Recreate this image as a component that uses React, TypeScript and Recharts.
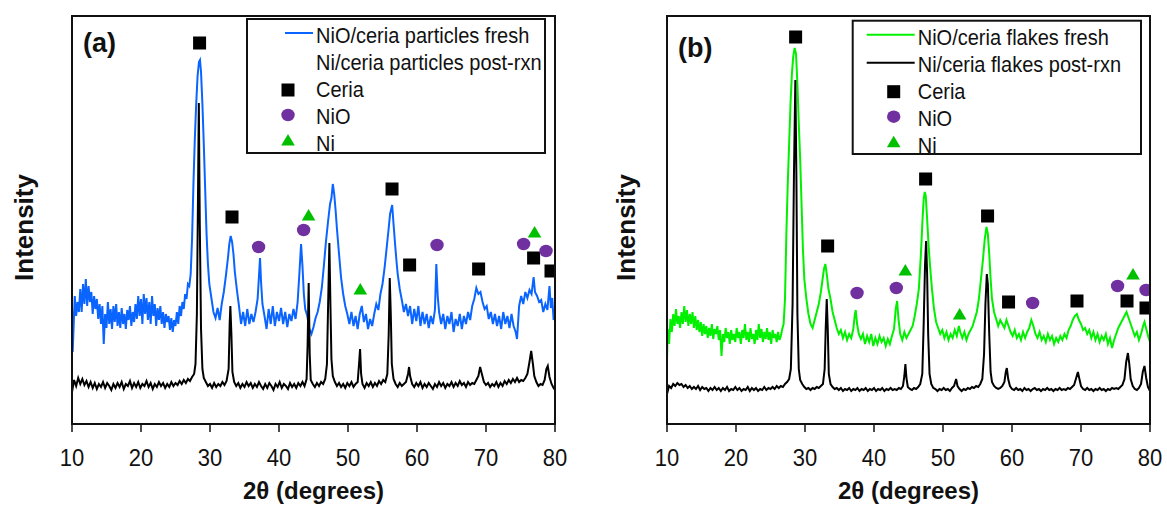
import React from "react";
import { ComposedChart, Line, Scatter, XAxis, YAxis } from "recharts";

type Pt = [number, number];

// 2θ axis ticks (degrees)
const xTicks = [10, 20, 30, 40, 50, 60, 70, 80];

// (a) NiO/ceria particles fresh — intensity, arbitrary units
const particlesFresh: Pt[] = [
  [10.0, 118], [10.1, 72], [10.25, 100], [10.4, 128], [10.6, 108], [10.8, 122], [11.0, 112], [11.2, 135], [11.4, 112], [11.6, 140],
  [11.8, 120], [12.0, 145], [12.2, 118], [12.4, 138], [12.6, 122], [12.8, 132], [13.0, 110], [13.2, 128], [13.4, 115], [13.6, 125],
  [13.8, 105], [14.0, 120], [14.2, 100], [14.4, 118], [14.6, 80], [14.8, 110], [15.0, 96], [15.2, 122], [15.4, 100], [15.6, 115],
  [15.8, 95], [16.0, 118], [16.2, 102], [16.4, 120], [16.6, 98], [16.8, 112], [17.0, 96], [17.2, 116], [17.4, 100], [17.6, 110],
  [17.8, 95], [18.0, 114], [18.2, 104], [18.4, 118], [18.6, 98], [18.8, 112], [19.0, 102], [19.2, 120], [19.4, 105], [19.6, 128],
  [19.8, 108], [20.0, 125], [20.2, 100], [20.4, 130], [20.6, 110], [20.8, 126], [21.0, 104], [21.2, 122], [21.4, 100], [21.6, 128],
  [21.8, 108], [22.0, 120], [22.2, 98], [22.4, 116], [22.6, 104], [22.8, 118], [23.0, 100], [23.2, 112], [23.4, 96], [23.6, 110],
  [23.8, 102], [24.0, 108], [24.2, 94], [24.4, 106], [24.6, 92], [24.8, 104], [25.0, 98], [25.2, 112], [25.4, 100], [25.6, 118],
  [25.8, 108], [26.0, 122], [26.2, 115], [26.4, 130], [26.6, 125], [26.8, 140], [27.0, 138], [27.2, 150], [27.4, 185], [27.6, 240],
  [27.8, 285], [28.0, 320], [28.2, 348], [28.4, 362], [28.55, 364], [28.7, 352], [28.9, 320], [29.1, 280], [29.3, 235], [29.5, 190],
  [29.7, 160], [29.9, 140], [30.2, 126], [30.5, 112], [30.8, 106], [31.1, 116], [31.4, 104], [31.7, 120], [32.0, 132], [32.3, 148],
  [32.6, 166], [32.8, 180], [33.0, 188], [33.2, 182], [33.4, 170], [33.6, 152], [33.9, 134], [34.2, 118], [34.5, 100], [34.8, 112],
  [35.1, 98], [35.4, 115], [35.7, 100], [36.0, 110], [36.3, 102], [36.6, 112], [36.9, 125], [37.1, 148], [37.25, 166], [37.4, 142],
  [37.6, 120], [37.9, 108], [38.2, 95], [38.5, 115], [38.8, 100], [39.1, 118], [39.4, 98], [39.7, 112], [40.0, 103], [40.3, 116],
  [40.6, 100], [40.9, 112], [41.2, 97], [41.5, 110], [41.8, 103], [42.1, 115], [42.4, 105], [42.7, 122], [42.95, 150], [43.2, 180],
  [43.4, 158], [43.6, 130], [43.8, 115], [44.1, 108], [44.4, 95], [44.7, 90], [45.0, 97], [45.3, 106], [45.6, 112], [45.9, 122],
  [46.2, 136], [46.5, 158], [46.8, 182], [47.1, 202], [47.4, 220], [47.6, 226], [47.8, 240], [48.0, 230], [48.2, 214], [48.4, 195],
  [48.7, 170], [49.0, 146], [49.3, 130], [49.6, 118], [49.9, 110], [50.2, 100], [50.5, 112], [50.8, 98], [51.1, 108], [51.4, 95],
  [51.7, 110], [52.0, 118], [52.3, 102], [52.6, 110], [52.9, 95], [53.2, 105], [53.5, 98], [53.8, 110], [54.1, 120], [54.4, 114],
  [54.7, 130], [55.0, 140], [55.3, 156], [55.6, 176], [55.9, 196], [56.1, 210], [56.4, 219], [56.6, 200], [56.8, 182], [57.0, 165],
  [57.2, 150], [57.5, 135], [57.8, 124], [58.1, 112], [58.4, 120], [58.7, 108], [59.0, 118], [59.3, 100], [59.6, 115], [59.9, 103],
  [60.2, 118], [60.5, 98], [60.8, 112], [61.1, 100], [61.4, 110], [61.7, 96], [62.0, 108], [62.3, 100], [62.6, 114], [62.8, 160],
  [63.0, 128], [63.2, 112], [63.5, 100], [63.8, 110], [64.1, 95], [64.4, 108], [64.7, 100], [65.0, 112], [65.3, 92], [65.6, 105],
  [65.9, 98], [66.2, 110], [66.5, 95], [66.8, 108], [67.1, 100], [67.4, 112], [67.7, 104], [68.0, 118], [68.3, 125], [68.6, 136],
  [68.9, 130], [69.2, 132], [69.5, 122], [69.8, 115], [70.1, 118], [70.4, 105], [70.7, 112], [71.0, 100], [71.3, 110], [71.6, 98],
  [71.9, 108], [72.2, 95], [72.5, 112], [72.8, 100], [73.1, 108], [73.4, 96], [73.7, 110], [74.0, 98], [74.3, 92], [74.5, 85],
  [74.8, 118], [75.1, 128], [75.4, 120], [75.7, 132], [76.0, 126], [76.3, 134], [76.6, 130], [76.9, 147], [77.1, 132], [77.4, 128],
  [77.7, 122], [78.0, 124], [78.3, 112], [78.6, 120], [78.9, 114], [79.2, 138], [79.4, 116], [79.6, 126], [79.8, 104], [80.0, 112],
];

// (a) Ni/ceria particles post-rxn
const particlesPost: Pt[] = [
  [10.0, 32], [10.3, 44], [10.6, 38], [10.9, 46], [11.2, 40], [11.5, 45], [11.8, 39], [12.1, 43], [12.4, 37], [12.7, 42],
  [13.0, 36], [13.3, 41], [13.6, 35], [13.9, 40], [14.2, 37], [14.5, 42], [14.8, 36], [15.1, 41], [15.4, 38], [15.7, 34],
  [16.0, 40], [16.3, 36], [16.6, 41], [16.9, 37], [17.2, 42], [17.5, 35], [17.8, 40], [18.1, 38], [18.4, 43], [18.7, 36],
  [19.0, 41], [19.3, 37], [19.6, 42], [19.9, 36], [20.2, 40], [20.5, 38], [20.8, 43], [21.1, 37], [21.4, 41], [21.7, 35],
  [22.0, 40], [22.3, 37], [22.6, 42], [22.9, 38], [23.2, 41], [23.5, 36], [23.8, 40], [24.1, 37], [24.4, 42], [24.7, 38],
  [25.0, 41], [25.3, 39], [25.6, 43], [25.9, 40], [26.2, 44], [26.5, 41], [26.8, 45], [27.1, 43], [27.4, 47], [27.7, 50],
  [27.9, 60], [28.1, 110], [28.25, 220], [28.38, 321], [28.52, 200], [28.7, 95], [28.9, 55], [29.1, 46], [29.4, 42], [29.7, 38],
  [30.0, 40], [30.3, 36], [30.6, 41], [30.9, 37], [31.2, 40], [31.5, 38], [31.8, 42], [32.1, 39], [32.4, 43], [32.7, 55],
  [32.85, 100], [32.95, 118], [33.1, 90], [33.25, 52], [33.5, 42], [33.8, 38], [34.1, 41], [34.4, 36], [34.7, 40], [35.0, 37],
  [35.3, 42], [35.6, 38], [35.9, 41], [36.2, 36], [36.5, 40], [36.8, 37], [37.1, 42], [37.4, 38], [37.7, 35], [38.0, 40],
  [38.3, 36], [38.6, 41], [38.9, 38], [39.2, 34], [39.5, 40], [39.8, 37], [40.1, 42], [40.4, 36], [40.7, 40], [41.0, 38],
  [41.3, 35], [41.6, 41], [41.9, 37], [42.2, 40], [42.5, 36], [42.8, 41], [43.1, 38], [43.4, 42], [43.7, 38], [44.0, 45],
  [44.15, 80], [44.3, 141], [44.45, 70], [44.6, 44], [44.9, 40], [45.2, 37], [45.5, 41], [45.8, 38], [46.1, 42], [46.4, 40],
  [46.7, 45], [46.95, 60], [47.15, 130], [47.3, 181], [47.45, 120], [47.6, 65], [47.8, 48], [48.1, 42], [48.4, 38], [48.7, 41],
  [49.0, 37], [49.3, 40], [49.6, 36], [49.9, 41], [50.2, 38], [50.5, 42], [50.8, 37], [51.1, 40], [51.4, 42], [51.6, 60],
  [51.75, 75], [51.9, 50], [52.1, 40], [52.4, 36], [52.7, 41], [53.0, 38], [53.3, 42], [53.6, 37], [53.9, 41], [54.2, 38],
  [54.5, 43], [54.8, 40], [55.1, 44], [55.4, 42], [55.7, 50], [55.9, 90], [56.05, 146], [56.2, 110], [56.35, 60], [56.6, 45],
  [56.9, 40], [57.2, 37], [57.5, 41], [57.8, 38], [58.1, 40], [58.4, 42], [58.7, 50], [58.85, 57], [59.0, 48], [59.3, 40],
  [59.6, 37], [59.9, 41], [60.2, 38], [60.5, 42], [60.8, 36], [61.1, 40], [61.4, 37], [61.7, 41], [62.0, 38], [62.3, 35],
  [62.6, 40], [62.9, 37], [63.2, 42], [63.5, 38], [63.8, 41], [64.1, 36], [64.4, 40], [64.7, 38], [65.0, 42], [65.3, 37],
  [65.6, 41], [65.9, 38], [66.2, 43], [66.5, 39], [66.8, 41], [67.1, 37], [67.4, 42], [67.7, 39], [68.0, 41], [68.3, 40],
  [68.6, 44], [68.9, 48], [69.15, 57], [69.4, 50], [69.7, 42], [70.0, 39], [70.3, 41], [70.6, 37], [70.9, 40], [71.2, 38],
  [71.5, 42], [71.8, 37], [72.1, 41], [72.4, 38], [72.7, 43], [73.0, 40], [73.3, 44], [73.6, 41], [73.9, 45], [74.2, 42],
  [74.5, 46], [74.8, 42], [75.1, 44], [75.4, 43], [75.7, 46], [76.0, 50], [76.3, 62], [76.55, 73], [76.8, 60], [77.0, 48],
  [77.3, 42], [77.6, 38], [77.9, 40], [78.2, 39], [78.5, 44], [78.75, 55], [78.95, 58], [79.2, 47], [79.5, 40], [79.8, 36],
  [80.0, 34],
];

// (b) NiO/ceria flakes fresh
const flakesFresh: Pt[] = [
  [10.0, 62], [10.1, 95], [10.3, 80], [10.5, 105], [10.7, 92], [10.9, 110], [11.1, 98], [11.3, 115], [11.5, 100], [11.7, 108],
  [11.9, 96], [12.1, 112], [12.3, 100], [12.5, 118], [12.7, 102], [12.9, 114], [13.1, 98], [13.3, 110], [13.5, 100], [13.7, 112],
  [13.9, 96], [14.1, 108], [14.3, 94], [14.5, 104], [14.7, 92], [14.9, 102], [15.1, 88], [15.3, 100], [15.5, 90], [15.7, 98],
  [15.9, 86], [16.1, 96], [16.3, 88], [16.5, 100], [16.7, 85], [16.9, 95], [17.1, 90], [17.3, 98], [17.5, 84], [17.7, 94],
  [17.9, 68], [18.1, 90], [18.3, 82], [18.5, 96], [18.7, 86], [18.9, 92], [19.1, 80], [19.3, 94], [19.5, 84], [19.7, 90],
  [19.9, 82], [20.1, 96], [20.3, 86], [20.5, 92], [20.7, 80], [20.9, 94], [21.1, 86], [21.3, 100], [21.5, 84], [21.7, 92],
  [21.9, 82], [22.1, 96], [22.3, 85], [22.5, 90], [22.7, 80], [22.9, 94], [23.1, 84], [23.3, 100], [23.5, 86], [23.7, 95],
  [23.9, 82], [24.1, 92], [24.3, 85], [24.5, 96], [24.7, 84], [24.9, 92], [25.1, 80], [25.3, 94], [25.5, 86], [25.7, 90],
  [25.9, 82], [26.1, 92], [26.3, 84], [26.5, 88], [26.7, 95], [26.9, 100], [27.1, 125], [27.3, 190], [27.5, 240], [27.7, 280],
  [27.9, 320], [28.1, 350], [28.3, 368], [28.5, 376], [28.7, 370], [28.9, 340], [29.1, 300], [29.3, 265], [29.5, 220], [29.7, 175],
  [29.9, 145], [30.2, 125], [30.5, 110], [30.8, 100], [31.1, 96], [31.4, 104], [31.7, 112], [32.0, 120], [32.3, 132], [32.55, 145],
  [32.75, 155], [32.95, 160], [33.15, 150], [33.4, 135], [33.7, 125], [34.0, 112], [34.3, 104], [34.6, 96], [34.9, 90], [35.2, 94],
  [35.5, 86], [35.8, 92], [36.1, 84], [36.4, 90], [36.7, 86], [37.0, 95], [37.2, 108], [37.35, 114], [37.55, 100], [37.8, 90],
  [38.1, 85], [38.4, 90], [38.7, 80], [39.0, 88], [39.3, 82], [39.6, 90], [39.9, 78], [40.2, 86], [40.5, 80], [40.8, 88],
  [41.1, 82], [41.4, 86], [41.7, 78], [42.0, 85], [42.3, 80], [42.6, 88], [42.9, 95], [43.15, 115], [43.35, 123], [43.55, 105],
  [43.8, 90], [44.1, 84], [44.4, 92], [44.7, 86], [45.0, 90], [45.3, 94], [45.6, 98], [45.9, 108], [46.2, 120], [46.5, 135],
  [46.8, 170], [47.0, 200], [47.2, 225], [47.35, 232], [47.5, 228], [47.7, 205], [47.9, 180], [48.1, 160], [48.4, 135], [48.7, 115],
  [49.0, 102], [49.3, 96], [49.6, 90], [49.9, 94], [50.2, 86], [50.5, 92], [50.8, 84], [51.1, 90], [51.4, 86], [51.7, 94],
  [52.0, 88], [52.3, 98], [52.5, 92], [52.8, 86], [53.1, 92], [53.4, 84], [53.7, 90], [54.0, 94], [54.3, 98], [54.6, 105],
  [54.9, 112], [55.2, 125], [55.5, 145], [55.8, 165], [56.05, 185], [56.3, 197], [56.5, 190], [56.7, 170], [56.9, 145], [57.1, 125],
  [57.4, 112], [57.7, 105], [58.0, 98], [58.3, 104], [58.6, 100], [58.9, 96], [59.2, 104], [59.5, 98], [59.8, 92], [60.1, 88],
  [60.4, 94], [60.7, 86], [61.0, 90], [61.3, 84], [61.6, 92], [61.9, 86], [62.2, 92], [62.5, 96], [62.8, 104], [63.1, 98],
  [63.4, 90], [63.7, 86], [64.0, 92], [64.3, 84], [64.6, 88], [64.9, 82], [65.2, 90], [65.5, 84], [65.8, 88], [66.1, 80],
  [66.4, 86], [66.7, 82], [67.0, 88], [67.3, 84], [67.6, 90], [67.9, 86], [68.2, 94], [68.5, 98], [68.8, 104], [69.1, 108],
  [69.4, 110], [69.7, 104], [70.0, 100], [70.3, 94], [70.6, 96], [70.9, 90], [71.2, 94], [71.5, 86], [71.8, 92], [72.1, 84],
  [72.4, 90], [72.7, 82], [73.0, 88], [73.3, 84], [73.6, 90], [73.9, 80], [74.2, 86], [74.5, 76], [74.8, 84], [75.1, 90],
  [75.4, 96], [75.7, 100], [76.0, 104], [76.3, 108], [76.6, 112], [76.9, 106], [77.2, 100], [77.5, 94], [77.8, 88], [78.1, 92],
  [78.4, 84], [78.7, 90], [79.0, 98], [79.2, 102], [79.5, 94], [79.8, 86], [80.0, 82],
];

// (b) Ni/ceria flakes post-rxn
const flakesPost: Pt[] = [
  [10.0, 30], [10.3, 38], [10.6, 36], [10.9, 40], [11.2, 38], [11.5, 41], [11.8, 39], [12.1, 40], [12.4, 37], [12.7, 39],
  [13.0, 36], [13.3, 38], [13.6, 35], [13.9, 37], [14.2, 35], [14.5, 38], [14.8, 34], [15.1, 37], [15.4, 35], [15.7, 36],
  [16.0, 33], [16.3, 36], [16.6, 34], [16.9, 37], [17.2, 34], [17.5, 36], [17.8, 33], [18.1, 36], [18.4, 34], [18.7, 37],
  [19.0, 33], [19.3, 35], [19.6, 34], [19.9, 37], [20.2, 34], [20.5, 36], [20.8, 33], [21.1, 35], [21.4, 34], [21.7, 37],
  [22.0, 33], [22.3, 36], [22.6, 34], [22.9, 36], [23.2, 33], [23.5, 35], [23.8, 34], [24.1, 37], [24.4, 34], [24.7, 36],
  [25.0, 35], [25.3, 37], [25.6, 35], [25.9, 38], [26.2, 36], [26.5, 38], [26.8, 37], [27.1, 40], [27.4, 42], [27.7, 45],
  [27.95, 55], [28.2, 120], [28.4, 250], [28.6, 344], [28.75, 250], [28.9, 110], [29.1, 55], [29.3, 44], [29.6, 40], [29.9, 37],
  [30.2, 35], [30.5, 36], [30.8, 34], [31.1, 36], [31.4, 35], [31.7, 37], [32.0, 36], [32.3, 38], [32.6, 40], [32.85, 55],
  [33.0, 95], [33.15, 125], [33.3, 95], [33.45, 50], [33.7, 40], [34.0, 37], [34.3, 35], [34.6, 36], [34.9, 34], [35.2, 36],
  [35.5, 33], [35.8, 35], [36.1, 34], [36.4, 36], [36.7, 33], [37.0, 35], [37.3, 34], [37.6, 36], [37.9, 33], [38.2, 35],
  [38.5, 34], [38.8, 36], [39.1, 33], [39.4, 35], [39.7, 34], [40.0, 36], [40.3, 33], [40.6, 35], [40.9, 34], [41.2, 36],
  [41.5, 33], [41.8, 35], [42.1, 34], [42.4, 36], [42.7, 34], [43.0, 35], [43.3, 34], [43.6, 36], [43.9, 35], [44.2, 38],
  [44.4, 48], [44.55, 60], [44.7, 46], [44.9, 37], [45.2, 35], [45.5, 34], [45.8, 36], [46.1, 35], [46.4, 37], [46.7, 40],
  [47.0, 50], [47.2, 100], [47.4, 160], [47.55, 183], [47.7, 150], [47.85, 90], [48.05, 50], [48.3, 40], [48.6, 36], [48.9, 35],
  [49.2, 33], [49.5, 35], [49.8, 34], [50.1, 36], [50.4, 34], [50.7, 35], [51.0, 33], [51.3, 36], [51.6, 38], [51.9, 45],
  [52.1, 38], [52.4, 35], [52.7, 33], [53.0, 35], [53.3, 34], [53.6, 36], [53.9, 35], [54.2, 37], [54.5, 36], [54.8, 38],
  [55.1, 37], [55.4, 40], [55.7, 45], [55.95, 70], [56.15, 120], [56.35, 150], [56.5, 140], [56.7, 90], [56.9, 52], [57.1, 42],
  [57.4, 38], [57.7, 36], [58.0, 35], [58.3, 36], [58.6, 38], [58.9, 42], [59.1, 52], [59.25, 56], [59.45, 45], [59.7, 38],
  [60.0, 35], [60.3, 34], [60.6, 36], [60.9, 34], [61.2, 35], [61.5, 33], [61.8, 36], [62.1, 34], [62.4, 35], [62.7, 33],
  [63.0, 35], [63.3, 36], [63.6, 34], [63.9, 35], [64.2, 33], [64.5, 35], [64.8, 34], [65.1, 36], [65.4, 34], [65.7, 35],
  [66.0, 33], [66.3, 35], [66.6, 34], [66.9, 36], [67.2, 34], [67.5, 35], [67.8, 34], [68.1, 36], [68.4, 35], [68.7, 37],
  [69.0, 39], [69.3, 46], [69.55, 52], [69.8, 44], [70.0, 38], [70.3, 35], [70.6, 34], [70.9, 36], [71.2, 34], [71.5, 35],
  [71.8, 33], [72.1, 35], [72.4, 34], [72.7, 36], [73.0, 34], [73.3, 35], [73.6, 33], [73.9, 35], [74.2, 34], [74.5, 36],
  [74.8, 35], [75.1, 36], [75.4, 35], [75.7, 37], [76.0, 39], [76.3, 45], [76.55, 62], [76.8, 71], [77.0, 60], [77.2, 45],
  [77.5, 38], [77.8, 35], [78.1, 34], [78.4, 36], [78.7, 40], [78.95, 52], [79.2, 58], [79.45, 46], [79.7, 37], [80.0, 33],
];

// phase markers placed above the peaks
const ceriaA: Pt[] = [[28.49, 381], [33.19, 207], [56.38, 235], [58.93, 159], [68.93, 155], [76.9, 166], [79.42, 153]];
const nioA: Pt[] = [[37.04, 177], [43.57, 194], [62.9, 179], [75.45, 180], [78.7, 173]];
const niA: Pt[] = [[44.29, 209], [51.78, 135], [77.04, 192]];

const ceriaB: Pt[] = [[28.64, 387], [33.28, 178], [47.48, 245], [56.46, 208], [59.5, 122], [69.42, 123], [76.67, 123], [79.42, 116]];
const nioB: Pt[] = [[37.54, 131], [43.23, 136], [62.99, 121], [75.3, 138], [79.42, 134]];
const niB: Pt[] = [[44.54, 154], [52.41, 110], [77.54, 150]];

const FONT = "'Liberation Sans', Arial, Helvetica, sans-serif";
const INK = "#111111";
const BLUE = "#0a64ff";
const LIME = "#00f000";
const PURPLE = "#7030a0";
const NI_GREEN = "#00c000";

// plot box inside each 583x506 panel
const PLOT = { left: 72, top: 16, right: 555, bottom: 424 };

const toRows = (pts: Pt[]) => pts.map(([x, y]) => ({ x, y }));

const Square = (p: any) => <rect x={p.cx - 6.5} y={p.cy - 6.5} width={13} height={13} fill="#000" />;
const Dot = (p: any) => <ellipse cx={p.cx} cy={p.cy} rx={6.7} ry={6.2} fill={PURPLE} />;
const Tri = (p: any) => (
  <path d={`M${p.cx},${p.cy - 6} L${p.cx + 6.8},${p.cy + 5.5} L${p.cx - 6.8},${p.cy + 5.5} Z`} fill={NI_GREEN} />
);

const XTick = ({ x, y, payload }: any) => (
  <text
    transform={`translate(${x},${y + 34}) scale(1,1.12)`}
    textAnchor="middle"
    fontFamily={FONT}
    fontSize={22}
    fill={INK}
  >
    {payload.value}
  </text>
);

interface PanelProps {
  left: number;
  tag: string;
  tagY: number;
  intensityX: number;
  fresh: Pt[];
  post: Pt[];
  freshColor: string;
  freshLabel: string;
  postLabel: string;
  showPostSwatch: boolean;
  ceria: Pt[];
  nio: Pt[];
  ni: Pt[];
  legend: { x: number; y: number; w: number; h: number; swatchX: number; textX: number; markerX: number };
}

function Panel(p: PanelProps) {
  const axisLine = { stroke: INK, strokeWidth: 2 };
  const lg = p.legend;
  const rowsY = [24, 51, 78, 105, 132];
  const markY = [71, 96, 121];
  return (
    <div style={{ position: "absolute", left: p.left, top: 0, width: 583, height: 506 }}>
      <ComposedChart
        width={583}
        height={506}
        margin={{ top: PLOT.top, right: 583 - PLOT.right, bottom: 0, left: PLOT.left }}
      >
        <XAxis
          dataKey="x"
          type="number"
          domain={[10, 80]}
          ticks={xTicks}
          interval={0}
          allowDataOverflow
          height={506 - PLOT.bottom}
          tickSize={8}
          tickMargin={0}
          axisLine={axisLine}
          tickLine={{ stroke: INK, strokeWidth: 1.5 }}
          tick={<XTick />}
        />
        <YAxis type="number" domain={[0, 408]} allowDataOverflow width={0} tick={false} tickLine={false} axisLine={axisLine} />
        <Line
          data={toRows(p.fresh)}
          dataKey="y"
          type="linear"
          stroke={p.freshColor}
          strokeWidth={2}
          dot={false}
          isAnimationActive={false}
        />
        <Line
          data={toRows(p.post)}
          dataKey="y"
          type="linear"
          stroke="#000"
          strokeWidth={2}
          dot={false}
          isAnimationActive={false}
        />
        <Scatter data={toRows(p.ceria)} dataKey="y" shape={Square} isAnimationActive={false} />
        <Scatter data={toRows(p.nio)} dataKey="y" shape={Dot} isAnimationActive={false} />
        <Scatter data={toRows(p.ni)} dataKey="y" shape={Tri} isAnimationActive={false} />
      </ComposedChart>

      <svg width={583} height={506} style={{ position: "absolute", left: 0, top: 0, pointerEvents: "none" }}>
        {/* closed frame around the plot */}
        <rect
          x={PLOT.left}
          y={PLOT.top}
          width={PLOT.right - PLOT.left}
          height={PLOT.bottom - PLOT.top}
          fill="none"
          stroke={INK}
          strokeWidth={2}
        />
        <text x={83} y={p.tagY} fontFamily={FONT} fontWeight="bold" fontSize={27} fill={INK}>
          {p.tag}
        </text>
        <text
          transform={`translate(${p.intensityX},227.5) rotate(-90)`}
          textAnchor="middle"
          fontFamily={FONT}
          fontWeight="bold"
          fontSize={26}
          fill={INK}
        >
          Intensity
        </text>
        <text
          x={(PLOT.left + PLOT.right) / 2}
          y={499}
          textAnchor="middle"
          fontFamily={FONT}
          fontWeight="bold"
          fontSize={24}
          fill={INK}
        >
          2θ (degrees)
        </text>

        <g transform={`translate(${lg.x},${lg.y})`} fontFamily={FONT} fontSize={20} fill={INK}>
          <rect x={0} y={0} width={lg.w} height={lg.h} fill="#fff" />
          <line x1={lg.swatchX} x2={lg.textX - 3} y1={14} y2={14} stroke={p.freshColor} strokeWidth={2} />
          {p.showPostSwatch && <line x1={lg.swatchX} x2={lg.textX - 3} y1={42} y2={42} stroke="#000" strokeWidth={2} />}
          {[p.freshLabel, p.postLabel, "Ceria", "NiO", "Ni"].map((t, i) => (
            <text key={t} transform={`translate(${lg.textX},${rowsY[i]}) scale(1,1.1)`}>
              {t}
            </text>
          ))}
          <Square cx={lg.markerX} cy={markY[0]} />
          <Dot cx={lg.markerX} cy={markY[1]} />
          <Tri cx={lg.markerX} cy={markY[2]} />
          <rect x={0} y={0} width={lg.w} height={lg.h} fill="none" stroke={INK} strokeWidth={2} />
        </g>
      </svg>
    </div>
  );
}

export default function App() {
  return (
    <div
      style={{
        position: "absolute",
        left: 0,
        top: 0,
        width: 1167,
        height: 506,
        overflow: "hidden",
        background: "#fff",
      }}
    >
      <Panel
        left={0}
        tag="(a)"
        tagY={51.5}
        intensityX={33}
        fresh={particlesFresh}
        post={particlesPost}
        freshColor={BLUE}
        freshLabel="NiO/ceria particles fresh"
        postLabel="Ni/ceria particles post-rxn"
        showPostSwatch={false}
        ceria={ceriaA}
        nio={nioA}
        ni={niA}
        legend={{ x: 247, y: 19, w: 298, h: 134, swatchX: 38, textX: 69, markerX: 41 }}
      />
      <Panel
        left={595}
        tag="(b)"
        tagY={56.5}
        intensityX={40}
        fresh={flakesFresh}
        post={flakesPost}
        freshColor={LIME}
        freshLabel="NiO/ceria flakes fresh"
        postLabel="Ni/ceria flakes post-rxn"
        showPostSwatch={true}
        ceria={ceriaB}
        nio={nioB}
        ni={niB}
        legend={{ x: 257.7, y: 20.7, w: 288.3, h: 133.3, swatchX: 14, textX: 65, markerX: 41 }}
      />
    </div>
  );
}
